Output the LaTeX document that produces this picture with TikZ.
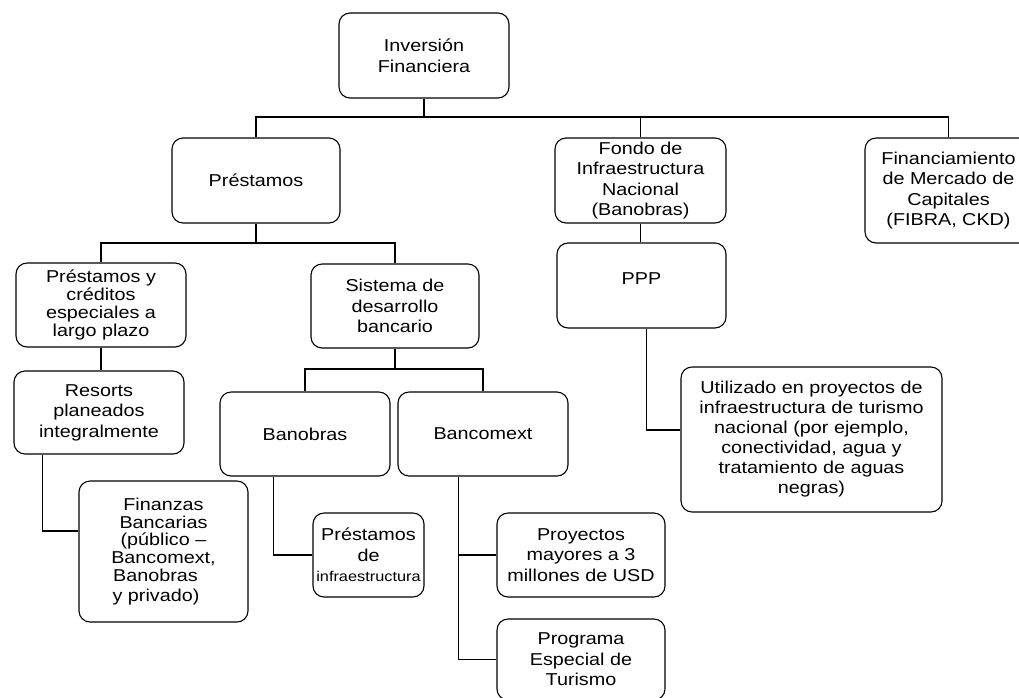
\documentclass[tikz,border=0pt]{standalone}
\usepackage{fontspec}
\setmainfont{Liberation Sans}[FakeStretch=1.15]
\begin{document}
\begin{tikzpicture}[x=1pt,y=-1pt,
  box/.style={draw, rounded corners=11pt, align=center, inner sep=0pt,
    line width=1.1pt, font=\fontsize{17.2pt}{20.5pt}\selectfont},
  conn/.style={line width=1.1pt}]
\useasboundingbox (0,0) rectangle (1019,697);
\clip (0,0) rectangle (1019,697);
\fill[white] (0,0) rectangle (1019,697);

% nodes
\node[box, minimum width=170pt, minimum height=85pt] (inv) at (424,55.5) {Inversión\\Financiera};
\node[box, minimum width=168pt, minimum height=85pt] (prest) at (256,180.5) {Préstamos};
\node[box, minimum width=171pt, minimum height=85pt] (fondo) at (640.5,180.5) {Fondo de\\Infraestructura\\Nacional\\(Banobras)};
\node[box, minimum width=167pt, minimum height=105pt] (fin) at (948.5,190.5) {Financiamiento\\de Mercado de\\Capitales\\(FIBRA, CKD)};
\node[box, minimum width=170pt, minimum height=84pt, font=\fontsize{17.2pt}{18pt}\selectfont] (pyc) at (101,305) {Préstamos y\\créditos\\especiales a\\largo plazo};
\node[box, minimum width=168pt, minimum height=84pt] (sis) at (395,306) {Sistema de\\desarrollo\\bancario};
\node[box, minimum width=170pt, minimum height=83pt] (res) at (99,412.5) {Resorts\\planeados\\integralmente};
\node[box, minimum width=169pt, minimum height=141pt, font=\fontsize{17.2pt}{17.8pt}\selectfont] (finz) at (163.5,551.5) {Finanzas\\Bancarias\\(público –\\Bancomext,\\\mbox{Banobras\kern16pt}\\[2.5pt]\mbox{y privado)\kern15pt}};
\node[box, minimum width=170pt, minimum height=84pt] (banob) at (305,434) {Banobras};
\node[box, minimum width=170pt, minimum height=84pt] (banc) at (483,434) {Bancomext};
\node[box, minimum width=111pt, minimum height=84pt] (pdi) at (368.5,555) {Préstamos\\de\\{\fontsize{14.2pt}{18pt}\selectfont infraestructura}};
\node[box, minimum width=168pt, minimum height=84pt] (proy) at (581,555) {Proyectos\\mayores a 3\\millones de USD};
\node[box, minimum width=168pt, minimum height=81pt] (prog) at (581,659.5) {Programa\\Especial de\\Turismo};
\node[box, minimum width=169pt, minimum height=85pt] (ppp) at (641.5,285.5) {\raisebox{14pt}{PPP}};
\node[box, minimum width=261pt, minimum height=145pt, font=\fontsize{17.2pt}{20pt}\selectfont] (util) at (811.5,439.5) {Utilizado en proyectos de\\infraestructura de turismo\\nacional (por ejemplo,\\conectividad, agua y\\tratamiento de aguas\\negras)};

% junction coordinates
\coordinate (j1) at (424,117);
\coordinate (j2) at (256,243);
\coordinate (j3) at (395,369);
\coordinate (rx) at ([xshift=29pt]res.south west);
\coordinate (bx) at ([xshift=54pt]banob.south west);
\coordinate (cx) at ([xshift=61pt]banc.south west);
\coordinate (px) at ([xshift=5pt]ppp.south);

% connectors
\draw[conn] (inv.south) -- (j1);
\draw[conn] (prest.north) |- (j1) -| (fin.north);
\draw[conn] (fondo.north) -- (fondo.north |- j1);

\draw[conn] (prest.south) -- (j2);
\draw[conn] (pyc.north) |- (j2) -| (sis.north);

\draw[conn] (pyc.south) -- (pyc.south |- res.north);
\draw[conn] (rx) |- ([yshift=20.5pt]finz.west);

\draw[conn] (sis.south) -- (j3);
\draw[conn] (banob.north) |- (j3) -| (banc.north);

\draw[conn] (bx) |- (pdi.west);
\draw[conn] (cx) |- (prog.west);
\draw[conn] (proy.west) -- (proy.west -| cx);

\draw[conn] (fondo.south) -- (fondo.south |- ppp.north);
\draw[conn] (px) |- ([yshift=9.5pt]util.west);
\end{tikzpicture}
\end{document}
